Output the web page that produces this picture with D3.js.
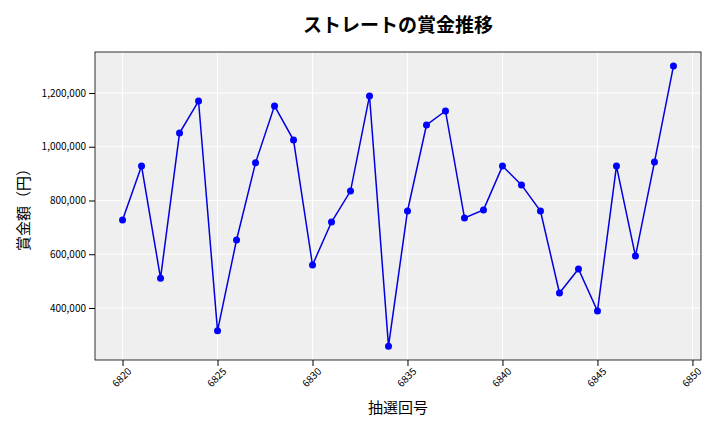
<!DOCTYPE html>
<html><head><meta charset="utf-8">
<script src="https://cdn.jsdelivr.net/npm/d3@7"></script>
<style>body{margin:0;background:#fff}text{font-family:"Noto Sans CJK JP","Noto Sans",sans-serif}</style>
</head><body><svg width="720" height="432"></svg>
<script>
// draw numbers and prize amounts (yen)
const draws = d3.range(6820, 6850);
const prizes = [727000, 928000, 511000, 1051000, 1170000, 315000, 653000, 940000, 1152000, 1025000,
  560000, 720000, 835000, 1189000, 258000, 761000, 1081000, 1133000, 735000, 765000,
  928000, 858000, 761000, 456000, 545000, 389000, 928000, 593000, 943000, 1300000];
const xTicks = [6820, 6825, 6830, 6835, 6840, 6845, 6850];
const yTicks = [400000, 600000, 800000, 1000000, 1200000];

const svg = d3.select("svg");
const L = 95, R = 701, T = 52, B = 360;
const x = d3.scaleLinear().domain([6818.55, 6850.45]).range([L, R]);
const y = d3.scaleLinear().domain([206500, 1352500]).range([B, T]);

svg.append("rect").attr("x", L).attr("y", T).attr("width", R - L).attr("height", B - T).attr("fill", "#efefef");
// grid
svg.append("g").selectAll("line").data(xTicks).join("line")
  .attr("x1", d => x(d)).attr("x2", d => x(d)).attr("y1", T).attr("y2", B).attr("stroke", "#fff");
svg.append("g").selectAll("line").data(yTicks).join("line")
  .attr("x1", L).attr("x2", R).attr("y1", d => y(d)).attr("y2", d => y(d)).attr("stroke", "#fff");
svg.append("rect").attr("x", L).attr("y", T).attr("width", R - L).attr("height", B - T)
  .attr("fill", "none").attr("stroke", "#000").attr("stroke-width", 0.8);

const xa = svg.append("g").attr("transform", `translate(0,${B})`)
  .call(d3.axisBottom(x).tickValues(xTicks).tickFormat(d3.format("d")).tickSizeOuter(0));
xa.select(".domain").remove();
xa.selectAll("text").attr("font-size", 10).attr("text-anchor", "end")
  .attr("transform", "rotate(-45)").attr("dx", "-0.2em").attr("dy", "0.6em");
const ya = svg.append("g").attr("transform", `translate(${L},0)`)
  .call(d3.axisLeft(y).tickValues(yTicks).tickFormat(d3.format(",")).tickSizeOuter(0));
ya.select(".domain").remove();
ya.selectAll("text").attr("font-size", 10);

const line = d3.line().x((d, i) => x(draws[i])).y(d => y(d));
svg.append("path").datum(prizes).attr("d", line).attr("fill", "none").attr("stroke", "#0000e0").attr("stroke-width", 1.5);
svg.append("g").selectAll("circle").data(prizes).join("circle")
  .attr("cx", (d, i) => x(draws[i])).attr("cy", d => y(d)).attr("r", 3.5).attr("fill", "#0000ff");

svg.append("text").attr("x", 398).attr("y", 32).attr("text-anchor", "middle")
  .attr("font-size", 19).attr("font-weight", "bold").text("ストレートの賞金推移");
svg.append("text").attr("x", 398).attr("y", 413).attr("text-anchor", "middle")
  .attr("font-size", 15).text("抽選回号");
svg.append("text").attr("transform", "translate(29,206) rotate(-90)").attr("text-anchor", "middle")
  .attr("font-size", 15).text("賞金額（円）");
</script></body></html>
